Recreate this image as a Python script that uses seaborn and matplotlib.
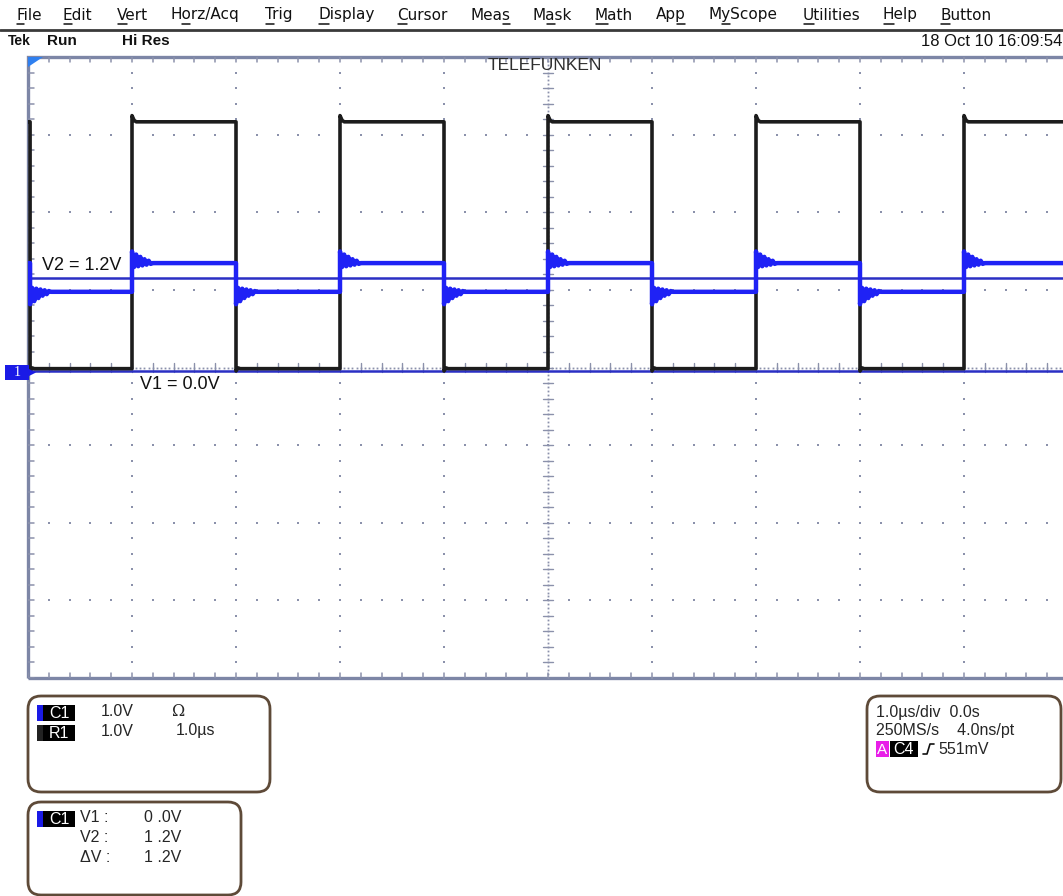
import numpy as np
import pandas as pd
import matplotlib
matplotlib.use("Agg")
import matplotlib.pyplot as plt
from matplotlib.patches import Rectangle, FancyBboxPatch, Polygon
import seaborn as sns

W, H = 1063, 896

# ---- acquisition / display settings ----
n_xdiv, n_ydiv = 10, 8
time_per_div = 1.0          # µs/div
volt_per_div = 1.0          # V/div
t_start = -5.0
t_end = 5.2

# ---- waveform data ----
edge_times = [-4.98, -4.0, -3.0, -2.0, -1.0, 0.0, 1.0, 2.0, 3.0, 4.0]   # µs
edge_states = [0, 1, 0, 1, 0, 1, 0, 1, 0, 1]                           # state after edge
initial_state = 1
ref_levels = [0.03, 3.21]     # R1 low / high (V)
ch1_levels = [1.02, 1.39]     # C1 low / high (V)

# C1 ringing right after each edge (V offsets, 20 ns apart)
ring_dt = 0.02
ring_rise = [0.15, -0.05, 0.11, -0.04, 0.08, -0.03, 0.05, -0.02, 0.03, -0.01, 0.0]
ring_fall = [-0.16, 0.05, -0.12, 0.04, -0.08, 0.03, -0.05, 0.02, -0.03, 0.01, 0.0]
# R1 overshoot right after each edge
ref_ring_rise = [0.08, 0.02, 0.0]
ref_ring_fall = [-0.03, 0.01, 0.0]

cursor_v1 = 0.0
cursor_v2 = 1.2
ground_offset_div = -0.045    # channel 1 ground marker position

menu_items = ["File", "Edit", "Vert", "Horz/Acq", "Trig", "Display", "Cursor", "Meas",
              "Mask", "Math", "App", "MyScope", "Utilities", "Help", "Button"]
menu_x = [16, 63, 117, 170, 265, 318, 397, 470, 533, 595, 656, 708, 803, 883, 940]
menu_ul = [0, 0, 0, 1, 0, 0, 0, 3, 1, 0, 2, 1, 0, 0, 0]
timestamp = "18 Oct 10 16:09:54"

TRACE_BLUE = "#1f22f5"
CURSOR_BLUE = "#2a2fc4"
GRID = "#8b91ab"
BORDER = "#7d86a6"
BOX_EDGE = "#5e4a38"


def build_trace(levels, rise, fall, dt):
    ts, vs = [t_start], [levels[initial_state]]
    prev = initial_state
    for t, s in zip(edge_times, edge_states):
        ts.append(t); vs.append(levels[prev])
        ring = rise if s else fall
        for k, off in enumerate(ring):
            ts.append(t + k * dt); vs.append(levels[s] + off)
        prev = s
    ts.append(t_end); vs.append(levels[prev])
    return pd.DataFrame({"t": ts, "v": vs})


ref_df = build_trace(ref_levels, ref_ring_rise, ref_ring_fall, 0.02)
ch1_df = build_trace(ch1_levels, ring_rise, ring_fall, ring_dt)

sns.set_style("white")
plt.rcParams["font.family"] = ["Liberation Sans", "DejaVu Sans"]

fig = plt.figure(figsize=(W / 100, H / 100), dpi=100)
fig.patch.set_facecolor("white")

# graticule rectangle in pixels
gx0, gx1, gy0, gy1 = 28, 1068, 57, 678
rect = [gx0 / W, 1 - gy1 / H, (gx1 - gx0) / W, (gy1 - gy0) / H]

# ---- graticule (division units) ----
ax_g = fig.add_axes(rect)
ax_g.set_xlim(0, n_xdiv)
ax_g.set_ylim(0, n_ydiv)
ax_g.axis("off")
ms = 1.7
for i in range(1, n_xdiv):
    if i == 5:
        continue
    yy = np.arange(0, n_ydiv + 0.001, 0.2)
    ax_g.plot(np.full_like(yy, i), yy, ls="", marker="s", ms=ms, mew=0, color=GRID)
for j in range(1, n_ydiv):
    if j == 4:
        continue
    xx = np.arange(0, n_xdiv + 0.001, 0.2)
    ax_g.plot(xx, np.full_like(xx, j), ls="", marker="s", ms=ms, mew=0, color=GRID)
# centre cross: fine dots plus minor ticks
yy = np.arange(0, n_ydiv + 0.001, 0.05)
ax_g.plot(np.full_like(yy, 5), yy, ls="", marker="s", ms=1.3, mew=0, color=GRID)
xx = np.arange(0, n_xdiv + 0.001, 0.04)
ax_g.plot(xx, np.full_like(xx, 4), ls="", marker="s", ms=1.3, mew=0, color=GRID)
for k in np.arange(0, n_ydiv + 0.001, 0.2):
    ax_g.plot([4.95, 5.05], [k, k], color=GRID, lw=1)
for k in np.arange(0, n_xdiv + 0.001, 0.2):
    ax_g.plot([k, k], [3.94, 4.06], color=GRID, lw=1)
# edge ticks
for k in np.arange(0, n_xdiv + 0.001, 0.2):
    ax_g.plot([k, k], [0, 0.07], color=GRID, lw=1.1)
    ax_g.plot([k, k], [n_ydiv - 0.07, n_ydiv], color=GRID, lw=1.1)
for k in np.arange(0, n_ydiv + 0.001, 0.2):
    ax_g.plot([0, 0.06], [k, k], color=GRID, lw=1.1)
ax_g.add_patch(Rectangle((0, 0), n_xdiv, n_ydiv, fill=False, ec=BORDER, lw=2.4, clip_on=False))

# ---- signal axes (µs, V) ----
ax = fig.add_axes(rect)
ax.patch.set_alpha(0)
ax.set_xlim(-n_xdiv / 2 * time_per_div, n_xdiv / 2 * time_per_div)
ylo = -n_ydiv / 2 * volt_per_div - ground_offset_div * volt_per_div
ax.set_ylim(ylo, ylo + n_ydiv * volt_per_div)
ax.axis("off")

ax.axhline(cursor_v1, color=CURSOR_BLUE, lw=1.8, zorder=2)
ax.axhline(cursor_v2, color=CURSOR_BLUE, lw=1.8, zorder=2)
sns.lineplot(data=ref_df, x="t", y="v", sort=False, estimator=None, color="#1c1c1c",
             lw=2.6, ax=ax, zorder=3, legend=False)
sns.lineplot(data=ch1_df, x="t", y="v", sort=False, estimator=None, color=TRACE_BLUE,
             lw=3.2, ax=ax, zorder=4, legend=False)
ax.text(-4.87, cursor_v2 + 0.16, f"V2 = {cursor_v2:.1f}V", fontsize=13, va="center",
        ha="left", color="#111111", zorder=5)
ax.text(-3.92, cursor_v1 - 0.17, f"V1 = {cursor_v1:.1f}V", fontsize=13, va="center",
        ha="left", color="#111111", zorder=5)

# ---- overlay in pixel coordinates ----
ov = fig.add_axes([0, 0, 1, 1])
ov.set_xlim(0, W)
ov.set_ylim(H, 0)
ov.axis("off")
ov.patch.set_alpha(0)

# menu bar
renderer = fig.canvas.get_renderer()
for name, x, ul in zip(menu_items, menu_x, menu_ul):
    t = ov.text(x, 15, name, fontsize=11, family="DejaVu Sans", va="center", ha="left",
                color="#111111")
    pre = ov.text(x, 15, name[:ul], fontsize=11, family="DejaVu Sans", va="center", ha="left")
    cur = ov.text(x, 15, name[:ul + 1], fontsize=11, family="DejaVu Sans", va="center", ha="left")
    x_a = x + (pre.get_window_extent(renderer).width if ul else 0)
    x_b = x + cur.get_window_extent(renderer).width
    pre.remove(); cur.remove()
    ov.plot([x_a + 0.5, x_b - 0.5], [24, 24], color="#111111", lw=1.1)
ov.plot([0, W], [30, 30], color="#3a3a3a", lw=2)

# status line
ov.text(8, 41, "Tek", fontsize=10, weight="bold", va="center", color="#111111")
ov.text(47, 41, "Run", fontsize=11, weight="bold", va="center", color="#111111")
ov.text(122, 41, "Hi Res", fontsize=11, weight="bold", va="center", color="#111111")
ov.text(1062, 41, timestamp, fontsize=12, va="center", ha="right", color="#111111")

# screen decorations
ov.text(545, 66, "TELEFUNKEN", fontsize=12.5, va="center", ha="center", color="#2e2e2e",
        family=["Liberation Sans Narrow", "Liberation Sans"])
ov.add_patch(Polygon([[28, 57], [43, 57], [28, 67]], closed=True, color="#2f80f0", lw=0))
ov.add_patch(Rectangle((5, 365), 24, 15, color="#1a1ae6", lw=0))
ov.text(17, 372.5, "1", fontsize=10, color="white", va="center", ha="center",
        family="Liberation Serif")
ov.add_patch(Polygon([[29, 369], [36, 372.5], [29, 376]], closed=True, color="#1a1ae6", lw=0))


def panel(x0, y0, x1, y1):
    ov.add_patch(FancyBboxPatch((x0, y0), x1 - x0, y1 - y0,
                                boxstyle="round,pad=0,rounding_size=13",
                                ec=BOX_EDGE, fc="white", lw=2, clip_on=False))


def tag(x, y, label, bar_color, box_color="black", w=32):
    ov.add_patch(Rectangle((x, y - 8), 6, 16, color=bar_color, lw=0))
    ov.add_patch(Rectangle((x + 6, y - 8), w, 16, color=box_color, lw=0))
    ov.text(x + 6 + w / 2, y + 0.5, label, fontsize=11.5, color="white",
            va="center", ha="center")


fs = 11.5
# channel / reference panel
panel(28, 696, 270, 792)
tag(37, 713, "C1", "#1a1ae6")
tag(37, 733, "R1", "#222222")
ov.text(101, 712, "1.0V", fontsize=fs, va="center")
ov.text(172, 712, "Ω", fontsize=fs, va="center", family="DejaVu Serif")
ov.text(101, 731, "1.0V", fontsize=fs, va="center")
ov.text(176, 731, "1.0µs", fontsize=fs, va="center")

# cursor readout panel
panel(28, 802, 241, 895)
tag(37, 819, "C1", "#1a1ae6")
ov.text(80, 818, "V1 :", fontsize=fs, va="center")
ov.text(80, 838, "V2 :", fontsize=fs, va="center")
ov.text(80, 857, "ΔV :", fontsize=fs, va="center")
ov.text(144, 818, "0 .0V", fontsize=fs, va="center")
ov.text(144, 838, "1 .2V", fontsize=fs, va="center")
ov.text(144, 857, "1 .2V", fontsize=fs, va="center")

# timebase / trigger panel
panel(867, 696, 1061, 792)
ov.text(876, 713, "1.0µs/div  0.0s", fontsize=fs, va="center")
ov.text(876, 731, "250MS/s    4.0ns/pt", fontsize=fs, va="center")
ov.add_patch(Rectangle((876, 741), 13, 16, color="#e81ee8", lw=0))
ov.text(882.5, 749.5, "A", fontsize=11, color="white", va="center", ha="center")
ov.add_patch(Rectangle((890, 741), 28, 16, color="black", lw=0))
ov.text(904, 749.5, "C4", fontsize=11.5, color="white", va="center", ha="center")
ov.plot([923, 927, 930, 934], [754, 754, 744, 744], color="#111111", lw=1.2)
ov.text(938, 749, "551mV", fontsize=fs, va="center")

fig.savefig("out.png", dpi=100, facecolor="white")
